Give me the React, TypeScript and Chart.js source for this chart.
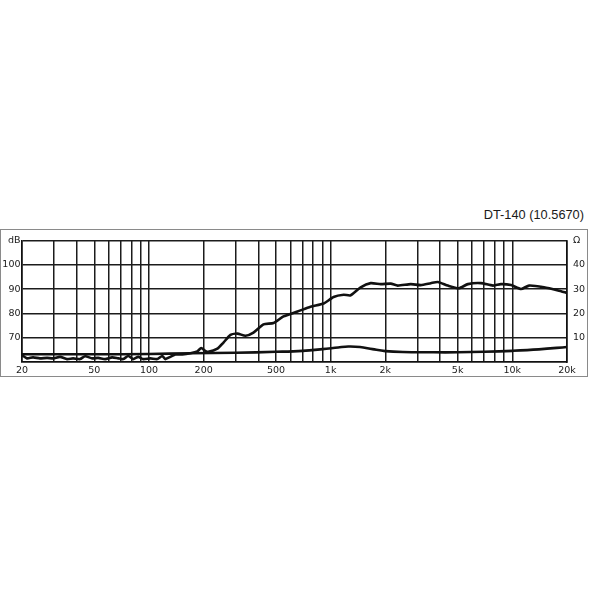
import { Chart, registerables } from "chart.js";
import { useEffect, useRef } from "react";

Chart.register(...registerables);

// SPL response (Hz / dB)
const splFreq = [20, 21.3, 23.0, 25.1, 27.5, 29.7, 32.4, 35.4, 38.2, 41.8, 44.5, 48.7, 52.5, 57.4, 62.7, 67.7, 72.1, 76.9, 81.9, 87.3, 93.0, 101.7, 111.1, 118.4, 123.0, 131.0, 139.7, 152.6, 169, 184.6, 194, 204, 212, 238, 257, 281, 307, 340, 376, 427, 485, 550, 657, 775, 915, 1038, 1179, 1289, 1463, 1662, 1887, 2142, 2342, 2762, 3136, 3560, 3890, 4418, 5080, 5696, 6720, 7826, 8660, 9834, 11166, 12362, 14950, 17864, 20000];
const splDb = [62.8, 61.5, 61.9, 61.5, 61.7, 61.5, 62.1, 61.2, 61.5, 61.2, 62.4, 61.5, 61.7, 61.2, 61.9, 61.5, 61.2, 62.5, 61.2, 62.1, 61.2, 61.5, 61.2, 62.5, 61.2, 62.1, 63.1, 63.1, 63.6, 64.4, 65.8, 64.6, 64.2, 65.5, 68, 71.2, 71.7, 70.8, 72.1, 75.5, 76.1, 78.8, 80.8, 82.8, 84.1, 86.8, 87.7, 87.5, 90.8, 92.5, 92.1, 92.3, 91.5, 92.1, 91.7, 92.5, 93, 91.5, 90.4, 92.1, 92.5, 91.5, 92.1, 91.7, 90.1, 91.5, 90.8, 89.5, 88.5];

// impedance (Hz / ohm)
const impFreq = [20, 50, 100, 170, 300, 500, 700, 900, 1100, 1250, 1450, 1700, 2000, 2500, 3500, 5000, 7000, 10000, 14000, 20000];
const impOhm = [3.2, 3.2, 3.3, 3.6, 3.8, 4.2, 4.6, 5.3, 6.0, 6.4, 6.2, 5.3, 4.5, 4.1, 4.0, 4.0, 4.2, 4.6, 5.2, 6.2];

const gridFreqs = [20, 30, 40, 50, 60, 70, 80, 90, 100, 200, 300, 400, 500, 600, 700, 800, 900, 1000, 2000, 3000, 4000, 5000, 6000, 7000, 8000, 9000, 10000, 20000];
const freqLabels: Record<number, string> = { 20: "20", 50: "50", 100: "100", 200: "200", 500: "500", 1000: "1k", 2000: "2k", 5000: "5k", 10000: "10k", 20000: "20k" };
const dbLabels: Record<number, string> = { 70: "70", 80: "80", 90: "90", 100: "100", 110: "dB" };
const ohmLabels: Record<number, string> = { 10: "10", 20: "20", 30: "30", 40: "40", 50: "Ω" };

const tickFont = { family: "'DejaVu Sans', sans-serif", size: 9.5 };
const ink = "#111";
const gridColor = "#1c1c1c";

const App = () => {
    const canvasRef = useRef<HTMLCanvasElement | null>(null);
    const chartRef = useRef<any>(null);

    useEffect(() => {
        if (!canvasRef.current) return;
        if (chartRef.current) chartRef.current.destroy();

        chartRef.current = new Chart(canvasRef.current, {
            type: "line",
            data: {
                datasets: [
                    {
                        data: splFreq.map((f, i) => ({ x: f, y: splDb[i] })),
                        borderColor: ink,
                        borderWidth: 2.6,
                        pointRadius: 0,
                        tension: 0.2,
                        yAxisID: "y"
                    },
                    {
                        data: impFreq.map((f, i) => ({ x: f, y: impOhm[i] })),
                        borderColor: ink,
                        borderWidth: 2.6,
                        pointRadius: 0,
                        tension: 0.4,
                        yAxisID: "y2"
                    }
                ]
            },
            options: {
                responsive: false,
                animation: false,
                devicePixelRatio: 1,
                layout: { padding: { top: 10, left: 0, right: 0, bottom: 0 } },
                plugins: { legend: { display: false }, tooltip: { enabled: false } },
                scales: {
                    x: {
                        type: "logarithmic",
                        min: 20,
                        max: 20000,
                        afterBuildTicks: (scale: any) => {
                            scale.ticks = gridFreqs.map((v) => ({ value: v }));
                        },
                        afterFit: (scale: any) => {
                            scale.height = 17;
                        },
                        grid: { color: gridColor, lineWidth: 1.5, drawTicks: false },
                        border: { color: ink, width: 1.6 },
                        ticks: {
                            autoSkip: false,
                            maxRotation: 0,
                            padding: 3,
                            color: "#1a1a1a",
                            font: tickFont,
                            callback: (value: any) => freqLabels[Number(value)] ?? ""
                        }
                    },
                    y: {
                        position: "left",
                        min: 60,
                        max: 110,
                        afterFit: (scale: any) => {
                            scale.width = 22;
                        },
                        grid: { color: gridColor, lineWidth: 1.5, drawTicks: false },
                        border: { color: ink, width: 1.6 },
                        ticks: {
                            stepSize: 5,
                            padding: 1.5,
                            color: "#1a1a1a",
                            font: tickFont,
                            callback: (value: any) => dbLabels[Number(value)] ?? ""
                        }
                    },
                    y2: {
                        position: "right",
                        min: 0,
                        max: 50,
                        afterFit: (scale: any) => {
                            scale.width = 23;
                        },
                        grid: { display: false, drawTicks: false },
                        border: { color: ink, width: 1.6 },
                        ticks: {
                            stepSize: 5,
                            padding: 6,
                            color: "#1a1a1a",
                            font: tickFont,
                            callback: (value: any) => ohmLabels[Number(value)] ?? ""
                        }
                    }
                }
            }
        });

        return () => chartRef.current?.destroy();
    }, []);

    return (
        <div style={{ position: "absolute", left: 0, top: 0, width: 590, height: 590, background: "#fff" }}>
            <div
                style={{
                    position: "absolute",
                    right: 6,
                    top: 206,
                    fontFamily: "'Liberation Sans', Arial, sans-serif",
                    fontSize: 12.8,
                    color: "#1a1a1a",
                    lineHeight: "18px"
                }}
            >
                DT-140 (10.5670)
            </div>
            <div
                style={{
                    position: "absolute",
                    left: 0,
                    top: 229,
                    width: 588,
                    height: 148,
                    boxSizing: "border-box",
                    border: "1px solid #8a8a8a"
                }}
            />
            <canvas
                ref={canvasRef}
                width={590}
                height={150}
                style={{ position: "absolute", left: 0, top: 229, width: 590, height: 150 }}
            ></canvas>
        </div>
    );
};

export default App;
